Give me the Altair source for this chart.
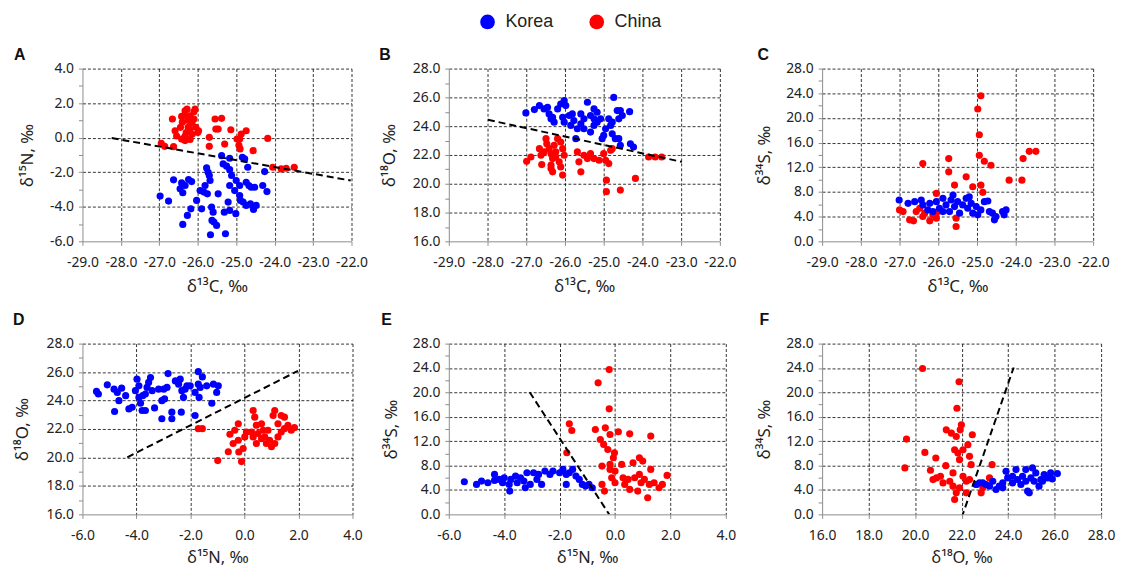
import altair as alt
import pandas as pd

# ---------------- data ----------------
# Panel A: d13C vs d15N
a_korea_x = [-26.98,-26.76,-26.63,-26.42,-26.33,-26.46,-26.39,-26.24,-26.16,-26.39,-26.27,-26.18,-26.03,-25.9,-25.94,-25.84,
             -25.77,-25.73,-25.7,-25.68,-25.81,-25.75,-25.64,-25.6,-25.63,-25.51,-25.67,-25.58,-25.47,-25.38,-25.34,-25.25,
             -25.17,-25.12,-25.17,-25.17,-25.21,-25.31,-25.28,-25.17,-25.0,-25.04,-24.91,-24.89,-24.91,-24.84,-24.78,-24.7,
             -24.74,-24.67,-24.61,-24.52,-24.82,-24.74,-24.63,-24.56,-24.48,-24.55,-24.26,-24.31,-24.2,-25.01]
a_korea_y = [-3.38,-3.67,-2.44,-2.62,-2.77,-2.96,-3.19,-2.42,-2.54,-5.02,-4.5,-4.12,-3.63,-4.12,-3.06,-3.15,
             -1.75,-2.0,-2.19,-2.48,-2.77,-3.25,-4.02,-4.31,-4.79,-5.08,-5.62,-4.88,-3.25,-1.04,-1.52,-1.65,
             -1.19,-2.19,-1.85,-2.77,-3.73,-4.31,-5.56,-4.21,-2.48,-3.06,-3.35,-3.63,-2.77,-1.13,-1.23,-1.71,
             -2.58,-2.77,-2.87,-2.87,-3.73,-3.92,-3.83,-4.02,-3.92,-4.15,-1.96,-2.77,-3.12,-4.4]
a_china_x = [-26.95,-26.86,-26.63,-26.66,-26.59,-26.55,-26.42,-26.33,-26.28,-26.2,-26.15,-26.07,-26.1,-26.25,-26.33,-26.42,
             -26.05,-25.98,-26.33,-25.7,-25.7,-25.55,-25.38,-25.53,-25.47,-25.14,-25.3,-24.98,-24.91,-24.87,-24.74,-24.93,
             -24.9,-24.56,-24.18,-24.05,-23.83,-23.7,-23.49,-26.4,-26.2,-26.0,-26.3,-26.15,-26.45,-26.25,-26.35,-26.1,-26.2]
a_china_y = [-0.33,-0.5,-0.52,1.08,0.4,0.1,1.23,1.56,1.65,1.27,0.88,1.65,1.08,0.6,0.1,-0.08,
             0.6,0.4,-0.17,0.02,-0.5,1.08,1.12,0.5,0.5,0.46,-0.37,-0.08,-0.08,0.21,0.4,-0.44,
             -0.65,-0.75,-0.04,-1.71,-1.81,-1.77,-1.71,0.9,0.5,0.3,0.3,0.2,0.6,1.0,1.3,1.5,-0.1]
a_line_x = [-28.24, -22.02]
a_line_y = [-0.02, -2.48]

# Panel B: d13C vs d18O
b_korea_x = [-27.01,-26.79,-26.66,-26.54,-26.45,-26.41,-26.36,-26.28,-26.32,-26.19,-26.11,-26.02,-25.98,-26.06,-25.89,-25.81,
             -25.77,-25.85,-25.72,-25.42,-25.25,-25.17,-25.34,-25.51,-25.59,-25.68,-25.51,-25.34,-25.25,-25.17,-25.08,-25.0,
             -25.04,-24.82,-24.78,-24.87,-24.74,-24.65,-24.57,-24.52,-24.61,-24.78,-24.7,-24.33,-24.31,-24.23,-24.61,-24.57,
             -24.95,-25.59,-25.25,-26.02]
b_korea_y = [24.92,25.15,25.43,25.2,25.31,24.85,24.51,24.28,24.62,25.2,25.54,25.77,25.43,24.62,24.74,24.85,
             24.39,24.05,23.13,25.66,25.2,24.97,24.74,24.51,24.16,23.82,23.82,23.59,24.05,24.28,24.51,23.36,
             23.13,24.05,24.28,24.51,26.0,25.08,25.08,24.74,24.51,23.47,23.13,25.01,22.78,22.55,23.13,22.67,
             23.82,24.85,24.51,24.28]
b_china_x = [-26.99,-26.88,-26.66,-26.62,-26.6,-26.49,-26.47,-26.41,-26.36,-26.32,-26.36,-26.28,-26.24,-26.19,-26.11,-26.06,
             -26.02,-26.15,-26.11,-26.06,-26.32,-26.36,-25.68,-25.64,-25.59,-25.51,-25.42,-25.34,-25.25,-25.12,-25.0,-24.95,
             -24.87,-24.82,-24.78,-24.93,-24.93,-24.57,-24.18,-23.84,-23.67,-23.5,-26.54,-26.24]
b_china_y = [21.56,21.86,22.44,21.98,21.33,23.13,22.78,22.44,22.09,21.75,21.29,22.67,22.21,23.13,22.9,22.44,
             21.98,21.52,21.17,20.6,20.83,21.06,22.21,21.52,20.83,21.98,21.75,22.09,21.75,21.63,22.09,21.63,
             21.4,22.32,22.44,20.25,19.45,19.56,20.37,21.86,21.86,21.86,22.21,21.86]
b_line_x = [-27.99, -22.98]
b_line_y = [24.44, 21.52]

# Panel C: d13C vs d34S
c_korea_x = [-27.01,-26.78,-26.61,-26.44,-26.4,-26.22,-26.27,-26.05,-25.97,-25.88,-25.8,-25.71,-25.67,-25.58,-25.5,-25.45,
             -25.37,-25.28,-25.24,-25.15,-25.11,-25.02,-24.98,-24.9,-24.81,-24.72,-24.68,-24.6,-24.51,-24.55,-24.34,-24.25,
             -24.3,-25.62,-25.88,-26.14,-25.2]
c_korea_y = [6.7,6.16,6.43,6.7,5.9,6.16,5.09,6.43,5.36,6.97,5.9,4.82,6.7,5.63,6.43,4.56,
             5.9,6.97,5.36,6.16,4.56,5.63,4.29,5.09,6.43,6.54,4.82,4.56,4.02,3.48,4.82,5.09,
             4.29,7.5,4.82,4.82,7.2]
c_china_x = [-24.9,-24.98,-24.94,-24.94,-24.81,-24.64,-25.73,-25.73,-25.58,-25.28,-26.4,-25.11,-24.9,-24.85,-24.17,-23.84,
             -23.81,-23.65,-23.48,-26.05,-27.0,-26.91,-26.74,-26.64,-26.57,-26.48,-26.4,-26.22,-26.14,-26.05,-26.01,-25.54,
             -25.54,-26.35]
c_china_y = [23.6,21.45,17.27,13.94,12.98,12.33,13.41,11.26,9.12,10.46,12.6,8.85,9.1,7.94,9.92,9.92,
             13.41,14.59,14.59,7.77,5.09,4.82,3.48,3.32,4.82,5.36,4.02,3.32,4.29,3.75,4.82,3.75,
             2.41,4.56]

# Panel D: d15N vs d18O
d_korea_x = [-5.48,-5.41,-5.08,-4.83,-4.71,-4.55,-4.81,-4.65,-4.4,-4.28,-4.16,-3.98,-3.91,-4.04,-3.91,-3.85,
             -3.77,-3.67,-3.61,-3.55,-3.48,-3.42,-3.79,-3.67,-3.33,-3.18,-2.99,-2.87,-2.83,-3.06,-2.96,-3.06,
             -2.69,-2.69,-2.56,-2.44,-2.38,-2.32,-2.2,-2.13,-2.26,-2.01,-2.34,-1.83,-1.71,-1.71,-1.56,-1.64,
             -1.68,-1.83,-1.21,-1.4,-1.15,-0.97,-1.03]
d_korea_y = [24.64,24.46,25.1,24.8,24.57,24.87,23.23,23.99,24.34,23.41,23.53,25.5,25.03,24.69,24.22,23.81,
             24.34,24.46,24.92,25.27,25.61,24.69,23.3,23.3,23.48,24.8,24.8,24.92,25.89,23.99,24.11,22.72,
             23.18,22.72,25.38,25.15,25.5,24.69,24.8,25.03,24.22,25.03,23.18,24.57,25.15,26.03,25.66,24.92,
             24.22,22.95,23.81,25.03,25.15,25.03,24.57]
d_china_x = [-1.71,-1.56,-0.99,-0.11,-0.6,-0.42,-0.54,-0.36,-0.23,-0.21,-0.05,0.01,0.07,-0.23,0.32,0.38,
             0.44,0.5,0.63,0.69,0.75,0.81,0.93,1.0,1.12,1.24,1.36,1.48,1.61,1.73,1.06,1.12,
             1.36,1.48,1.85,0.26,0.32,0.44,0.63,0.87,1.24]
d_china_y = [22.02,22.02,19.78,19.71,20.4,20.98,21.63,21.91,22.37,20.38,20.63,21.44,21.79,21.21,23.3,22.83,
             22.26,21.68,22.37,21.91,21.44,20.98,21.21,20.75,20.98,21.44,21.79,22.02,22.25,21.91,22.95,23.3,
             22.95,22.83,22.09,21.79,21.44,20.98,21.32,21.91,22.37]
d_line_x = [-4.34, 1.98]
d_line_y = [20.01, 26.08]

# Panel E: d15N vs d34S
e_korea_x = [-5.44,-5.0,-4.82,-4.59,-4.35,-4.18,-4.06,-4.35,-4.0,-3.82,-3.8,-3.59,-3.53,-3.41,-3.24,-3.18,
             -2.94,-2.82,-2.65,-2.53,-2.35,-2.24,-2.0,-1.88,-1.76,-1.65,-1.53,-1.41,-1.29,-1.18,-1.06,-0.94,
             -0.82,-3.06,-1.76,-3.76,-2.76,-3.29]
e_korea_y = [5.35,4.91,5.46,5.18,5.57,5.73,5.18,6.55,6.0,4.91,3.82,6.27,5.18,6.0,4.36,6.82,
             6.82,5.73,4.91,7.09,6.55,7.09,6.82,7.37,6.55,6.82,7.37,6.27,5.73,4.91,4.64,4.91,
             4.36,4.91,4.91,5.73,6.55,5.46]
e_china_x = [-0.21,-0.61,-0.21,-1.65,-1.56,-1.74,-0.71,-0.35,-0.18,-0.53,-0.41,-0.26,0.12,0.53,1.29,-0.02,
             -0.06,-0.18,-0.47,-0.18,0.0,-0.12,-0.47,-0.38,0.65,0.88,1.0,0.71,0.88,1.06,1.24,1.41,
             1.59,1.71,0.94,0.82,1.18,1.88,0.29,0.47,0.35,0.24,0.0,0.53,1.29]
e_china_y = [23.74,21.56,17.3,14.84,13.75,10.1,13.92,14.19,13.1,12.28,11.46,10.64,13.54,13.2,12.83,10.1,
             9.28,8.19,7.91,7.37,7.09,6.0,4.91,3.82,8.46,9.28,8.73,6.0,6.55,5.73,4.91,5.18,
             4.36,4.91,5.18,3.82,2.73,6.38,6.0,5.73,4.91,8.19,5.18,4.09,7.37]
e_line_x = [-3.08, -0.21]
e_line_y = [20.03, 0.0]

# Panel F: d18O vs d34S
f_korea_x = [22.77,23.05,23.34,23.62,23.77,23.98,24.19,24.41,24.62,24.76,24.98,25.19,25.41,25.55,25.69,25.83,
             25.9,26.12,24.84,24.91,25.33,25.48,23.91,24.34,24.76,25.05,23.77,23.48,23.2,22.63,22.91,24.55,
             25.12,24.19]
f_korea_y = [5.16,4.89,5.43,4.62,5.16,5.98,5.16,5.7,6.25,5.43,5.98,6.79,5.7,6.52,5.98,6.79,
             5.81,6.68,3.8,3.53,4.62,5.43,7.06,7.34,7.34,7.61,4.35,4.08,4.62,4.89,5.16,4.89,
             5.43,6.25]
f_china_x = [20.32,21.89,21.8,19.63,19.56,20.42,20.89,20.66,21.34,21.56,21.77,21.99,21.94,21.7,21.84,21.91,
             22.06,22.27,22.34,22.41,22.46,23.31,21.32,20.77,20.92,21.2,21.49,21.63,21.7,21.91,22.2,22.34,
             22.63,22.91,22.84,22.2,23.2,21.63,22.06,21.77,21.09]
f_china_y = [23.92,21.75,17.4,12.34,7.61,10.16,9.24,7.23,13.86,13.32,12.77,14.68,13.86,10.6,10.06,8.97,
             10.6,11.41,9.51,8.15,13.05,8.15,7.99,5.7,5.98,5.16,5.43,4.62,2.44,4.35,5.43,5.7,
             4.89,4.35,3.53,3.53,5.98,6.79,6.25,3.53,6.25]
f_line_x = [22.0, 24.24]
f_line_y = [-0.55, 24.08]

origins = ["Korea", "China"]
origin_colors = ["#0000FF", "#FF0000"]

# ---------------- styling ----------------
AX_FONT = "Noto Sans"
LEG_FONT = "Liberation Sans"
MINUS = "\u2212"
LBL = "replace(format(datum.value, '.1f'), '" + MINUS + "', '-')"


def panel(letter, kx, ky, cx, cy, lx, ly, xdom, xstep, xtitle, ydom, ymajor, ytitle,
          w, h, tdx, toff, ytp, xtp, xtfs):
    rows = [{"x": a, "y": b, "Origin": "China"} for a, b in zip(cx, cy)]
    rows += [{"x": a, "y": b, "Origin": "Korea"} for a, b in zip(kx, ky)]
    df = pd.DataFrame(rows)
    ldf = pd.DataFrame({"x": lx, "y": ly})

    xticks = list(range(xdom[0], xdom[1] + 1, xstep))
    yticks = list(range(ydom[0], ydom[1] + 1, ymajor // 2))

    xaxis = alt.Axis(
        values=xticks, labelExpr=LBL, labelOverlap=False, labelFlush=False, title=xtitle,
        grid=True, gridColor="#000000", gridDash=[3, 2], gridWidth=0.8,
        gridOpacity={"condition": {"test": f"datum.value == {xdom[0]}", "value": 0}, "value": 1},
        domainColor="#8c8c8c", tickColor="#8c8c8c", tickSize=4,
        labelFont=AX_FONT, labelFontSize=14, labelColor="#222222", labelPadding=10,
        titleFont=AX_FONT, titleFontSize=xtfs, titleFontWeight="normal", titleColor="#222222",
        titlePadding=xtp,
    )
    yaxis = alt.Axis(
        values=yticks,
        labelExpr=f"datum.value % {ymajor} == 0 ? {LBL} : ''",
        labelOverlap=False, labelFlush=False, title=ytitle,
        grid=True, gridColor="#000000", gridDash=[3, 2], gridWidth=0.8,
        gridOpacity={"condition": {"test": f"datum.value % {ymajor} != 0 || datum.value == {ydom[0]}",
                                   "value": 0}, "value": 1},
        domainColor="#8c8c8c", tickColor="#8c8c8c", tickSize=4,
        labelFont=AX_FONT, labelFontSize=14, labelColor="#222222", labelPadding=5,
        minExtent=37, maxExtent=37,
        titleFont=AX_FONT, titleFontSize=17, titleFontWeight="normal", titleColor="#222222",
        titlePadding=ytp,
    )
    X = alt.X("x:Q", scale=alt.Scale(domain=xdom, nice=False, zero=False), axis=xaxis)
    Y = alt.Y("y:Q", scale=alt.Scale(domain=ydom, nice=False, zero=False), axis=yaxis)

    pts = alt.Chart(df).mark_circle(size=52, opacity=1).encode(
        x=X, y=Y,
        color=alt.Color(
            "Origin:N",
            scale=alt.Scale(domain=origins, range=origin_colors),
            legend=alt.Legend(
                orient="none", legendX=399, legendY=-56, direction="horizontal",
                title=None, labelFont=LEG_FONT, labelFontSize=18, labelColor="#222222",
                symbolType="circle", symbolSize=220, symbolStrokeWidth=0, symbolOpacity=1,
                labelOffset=9, columnPadding=34, padding=0,
            ),
        ),
    )
    line = alt.Chart(ldf).mark_line(color="black", strokeDash=[7, 4], strokeWidth=2, clip=True).encode(
        x=X, y=Y
    )
    return alt.layer(pts, line).properties(
        width=w, height=h,
        title=alt.TitleParams(text=letter, anchor="start", frame="group", dx=tdx, offset=toff,
                              font=LEG_FONT, fontSize=16, fontWeight="bold", color="#111111",
                              baseline="alphabetic"),
    )


XC = "δ¹³C, ‰"
XN = "δ¹⁵N, ‰"
XO = "δ¹⁸O, ‰"
YN = "δ¹⁵N, ‰"
YO = "δ¹⁸O, ‰"
YS = "δ³⁴S, ‰"

pA = panel("A", a_korea_x, a_korea_y, a_china_x, a_china_y, a_line_x, a_line_y,
           [-29, -22], 1, XC, [-6, 4], 2, YN, 271, 174, -69, -14, 9, 10, 17)
pB = panel("B", b_korea_x, b_korea_y, b_china_x, b_china_y, b_line_x, b_line_y,
           [-29, -22], 1, XC, [16, 28], 2, YO, 273, 174, -70, -14, 14, 10, 17)
pC = panel("C", c_korea_x, c_korea_y, c_china_x, c_china_y, [], [],
           [-29, -22], 1, XC, [0, 28], 4, YS, 273, 174, -65, -14, 12, 10, 17)
pD = panel("D", d_korea_x, d_korea_y, d_china_x, d_china_y, d_line_x, d_line_y,
           [-6, 4], 2, XN, [16, 28], 2, YO, 272, 172, -70, -4, 14, 7, 16.5)
pE = panel("E", e_korea_x, e_korea_y, e_china_x, e_china_y, e_line_x, e_line_y,
           [-6, 4], 2, XN, [0, 28], 4, YS, 279, 172, -68, -4, 12, 7, 16.5)
pF = panel("F", f_korea_x, f_korea_y, f_china_x, f_china_y, f_line_x, f_line_y,
           [16, 28], 2, XO, [0, 28], 4, YS, 281, 172, -63, -4, 12, 7, 16.5)

chart = alt.concat(pA, pB, pC, pD, pE, pF, columns=3,
                   spacing={"row": 103, "column": 97}, bounds="flush").properties(
    padding={"left": 5, "top": 3, "right": 0, "bottom": 0},
    background="white",
).configure_view(stroke=None)

chart.save("out.html", embed_options={"renderer": "svg", "actions": False})
